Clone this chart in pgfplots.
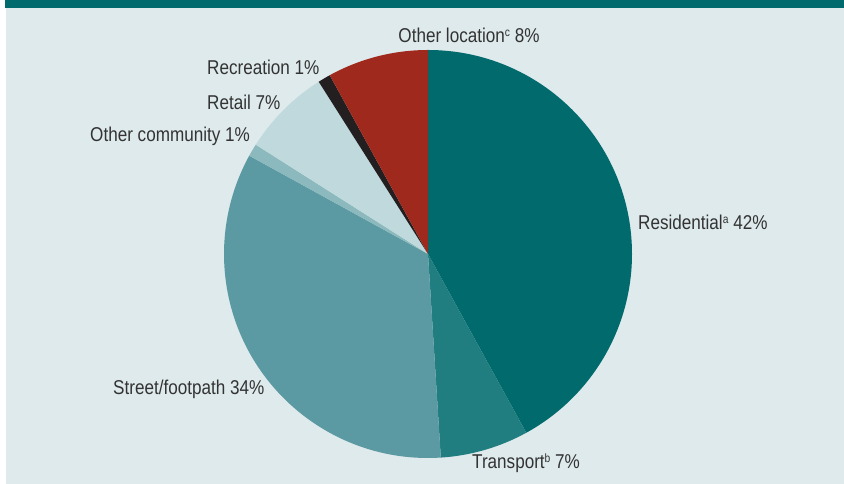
\documentclass[border=0pt]{standalone}
\usepackage{pgfplots}
\pgfplotsset{compat=1.18}
\usepackage{pgfplotstable}
\usepackage{fontspec}
\setmainfont{Liberation Sans}[FakeStretch=0.855]
\definecolor{bg}{HTML}{DFEAEC}
\definecolor{topbar}{HTML}{006A6C}
\definecolor{txt}{HTML}{333333}
\definecolor{c0}{HTML}{006A6C}
\definecolor{c1}{HTML}{217E80}
\definecolor{c2}{HTML}{5B9AA2}
\definecolor{c3}{HTML}{8BB9BD}
\definecolor{c4}{HTML}{BFD9DC}
\definecolor{c5}{HTML}{231F20}
\definecolor{c6}{HTML}{A0291E}
\newcommand{\supnote}[1]{\raisebox{6pt}{\fontsize{12}{12}\selectfont #1}}
\pgfplotstableread{
name value
Residential 42
Transport 7
Street 34
OtherCommunity 1
Retail 7
Recreation 1
OtherLocation 8
}\piedata
\begin{document}
\begin{tikzpicture}
\begin{axis}[width=844pt,height=484pt,scale only axis,
  xmin=0,xmax=844,ymin=0,ymax=484,axis lines=none,clip=false]
\fill[white] (axis cs:0,0) rectangle (axis cs:844,484);
\fill[bg] (axis cs:6,0) rectangle (axis cs:844,476);
\fill[topbar] (axis cs:5,476) rectangle (axis cs:844,484);
\def\cum{0}
\pgfplotsforeachungrouped \i in {0,...,6} {
  \pgfplotstablegetelem{\i}{value}\of\piedata
  \let\v\pgfplotsretval
  \pgfmathsetmacro\a{90-3.6*\cum}
  \pgfmathsetmacro\b{90-3.6*(\cum+\v)}
  \pgfmathsetmacro\cum{\cum+\v}
  \edef\temp{\noexpand\fill[c\i] (axis cs:428,230) -- ++(\a:204pt) arc[start angle=\a,end angle=\b,radius=204pt] -- cycle;}
  \temp
}
\begin{scope}[every node/.style={font=\fontsize{20}{24}\selectfont, text=txt, inner sep=0pt}]
\node[anchor=center] at (axis cs:469,449) {Other location\supnote{c} 8\%};
\node[anchor=west] at (axis cs:207,417) {Recreation 1\%};
\node[anchor=west] at (axis cs:207,382) {Retail 7\%};
\node[anchor=west] at (axis cs:90,348) {Other community 1\%};
\node[anchor=west] at (axis cs:638,262) {Residential\supnote{a} 42\%};
\node[anchor=west] at (axis cs:113,95) {Street/footpath 34\%};
\node[anchor=west] at (axis cs:472,21) {Transport\supnote{b} 7\%};
\end{scope}
\end{axis}
\end{tikzpicture}
\end{document}
